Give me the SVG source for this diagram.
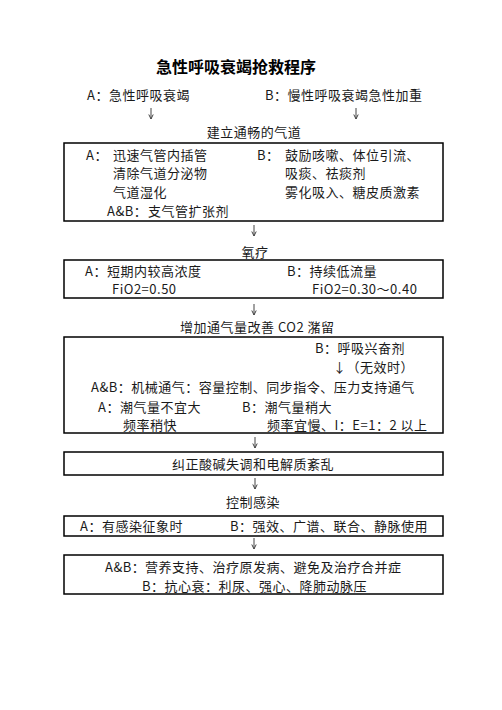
<svg xmlns="http://www.w3.org/2000/svg" width="502" height="710" viewBox="0 0 502 710">
<style>
.t{font-family:"Noto Sans CJK SC","Liberation Sans",sans-serif;font-size:13px;letter-spacing:0.5px;fill:#1a1a1a}
.m{text-anchor:middle}
.title{font-family:"Noto Sans CJK SC","Liberation Sans",sans-serif;font-size:16px;font-weight:bold;fill:#000;text-anchor:middle}
.box{fill:#fff;stroke:#000;stroke-width:1.5}
.c{stroke:#444;stroke-width:1;fill:none;marker-end:url(#ah)}
</style>
<defs>
<marker id="ah" markerWidth="6" markerHeight="6" refX="5.5" refY="3" orient="auto" markerUnits="userSpaceOnUse" viewBox="0 0 6 6">
<path d="M1,0.8 L5.5,3 L1,5.2" fill="none" stroke="#444" stroke-width="1"/>
</marker>
</defs>
<rect width="502" height="710" fill="#fff"/>
<text class="title" x="236" y="73">急性呼吸衰竭抢救程序</text>
<g id="start">
<text class="t" x="87" y="100">A：急性呼吸衰竭</text>
<text class="t" x="265" y="100">B：慢性呼吸衰竭急性加重</text>
</g>
<g id="airway">
<text class="t m" x="254" y="137">建立通畅的气道</text>
<rect class="box" x="64" y="143" width="379" height="78"/>
<text class="t" x="86" y="160">A：</text>
<text class="t" x="113" y="160">迅速气管内插管</text>
<text class="t" x="113" y="178">清除气道分泌物</text>
<text class="t" x="113" y="197">气道湿化</text>
<text class="t" x="257" y="160">B：</text>
<text class="t" x="285" y="160">鼓励咳嗽、体位引流、</text>
<text class="t" x="285" y="178">吸痰、祛痰剂</text>
<text class="t" x="285" y="197">雾化吸入、糖皮质激素</text>
<text class="t" x="107" y="216">A&amp;B：</text>
<text class="t" x="148" y="216">支气管扩张剂</text>
</g>
<g id="oxygen">
<text class="t m" x="255" y="257">氧疗</text>
<rect class="box" x="64" y="260" width="379" height="38"/>
<text class="t" x="85" y="276">A：短期内较高浓度</text>
<text class="t" x="112" y="294">FiO2=0.50</text>
<text class="t" x="287" y="276">B：持续低流量</text>
<text class="t" x="312" y="294">FiO2=0.30～0.40</text>
</g>
<g id="ventilation">
<text class="t" x="180" y="332">增加通气量改善 CO2 潴留</text>
<rect class="box" x="64" y="337" width="379" height="96"/>
<text class="t" x="315" y="353">B：呼吸兴奋剂</text>
<text class="t" x="333" y="372">↓（无效时）</text>
<text class="t" x="91" y="392">A&amp;B：机械通气：容量控制、同步指令、压力支持通气</text>
<text class="t" x="98" y="412">A：潮气量不宜大</text>
<text class="t" x="242" y="412">B：潮气量稍大</text>
<text class="t" x="123" y="430">频率稍快</text>
<text class="t" x="267" y="430">频率宜慢、I：E=1：2 以上</text>
</g>
<g id="acidbase">
<rect class="box" x="64" y="452" width="379" height="23"/>
<text class="t m" x="253" y="469">纠正酸碱失调和电解质紊乱</text>
</g>
<g id="infection">
<text class="t m" x="253" y="507">控制感染</text>
<rect class="box" x="64" y="516" width="379" height="20"/>
<text class="t" x="80" y="531">A：有感染征象时</text>
<text class="t" x="230" y="531">B：强效、广谱、联合、静脉使用</text>
</g>
<g id="support">
<rect class="box" x="64" y="555" width="379" height="39"/>
<text class="t" x="105" y="572">A&amp;B：</text>
<text class="t" x="145" y="572">营养支持、治疗原发病、避免及治疗合并症</text>
<text class="t" x="142" y="591">B：抗心衰：利尿、强心、降肺动脉压</text>
</g>
<g id="connectors">
<line class="c" x1="151" y1="108" x2="151" y2="119"/>
<line class="c" x1="356" y1="108" x2="356" y2="119"/>
<line class="c" x1="254" y1="225" x2="254" y2="236"/>
<line class="c" x1="254" y1="304" x2="254" y2="315"/>
<line class="c" x1="255" y1="437" x2="255" y2="448"/>
<line class="c" x1="255" y1="478" x2="255" y2="489"/>
<line class="c" x1="254" y1="538" x2="254" y2="549"/>
</g>
</svg>
